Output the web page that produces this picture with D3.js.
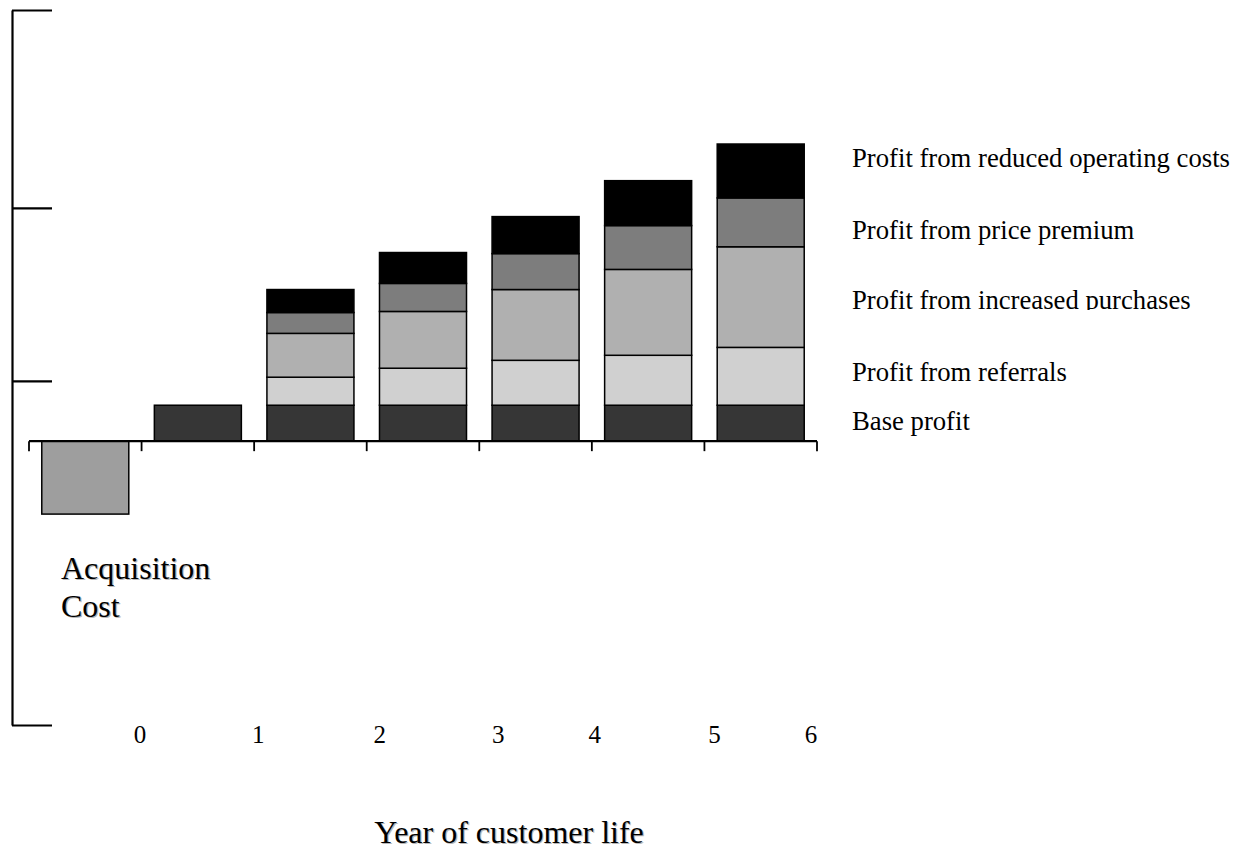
<!DOCTYPE html>
<meta charset="utf-8">

<!-- Load d3 -->
<script src="https://d3js.org/d3.v7.min.js"></script>

<style>
  body { margin: 0; background: #fff; }
  text { font-family: "Liberation Serif", "Times New Roman", serif; fill: #000; }
</style>

<div id="my_visual"></div>

<body>
  <script>

// ---- data ----
var yearLabels = ["0", "1", "2", "3", "4", "5", "6"];
var slots = [0, 1, 2, 3, 4, 5, 6];

var acquisitionCost    = [-20.3, 0, 0, 0, 0, 0, 0];
var baseProfit         = [0, 10, 10, 10, 10, 10, 10];
var referrals          = [0, 0, 7.8, 10.3, 12.5, 13.9, 16.1];
var increasedPurchases = [0, 0, 12.2, 15.8, 19.7, 23.9, 28];
var pricePremium       = [0, 0, 5.8, 7.8, 10, 12.2, 13.6];
var reducedCosts       = [0, 0, 6.4, 8.6, 10.3, 12.5, 15];

var seriesNames = ["Base profit", "Profit from referrals", "Profit from increased purchases",
                   "Profit from price premium", "Profit from reduced operating costs"];
var yTickValues = [-79, 16.8, 64.9, 120];

// ---- layout ----
var width = 1245, height = 850;
var colors = ["#363636", "#d0d0d0", "#b0b0b0", "#7d7d7d", "#000000"];
var acqColor = "#9e9e9e";
var legendBaselines = [430, 381, 309, 239, 167];
var labelNudge = [-1.5, 4, 13, 19, 3, 10, -6];

var svg = d3.select("#my_visual")
  .append("svg")
    .attr("width", width)
    .attr("height", height);

// scales
var x = d3.scaleBand()
    .domain(slots)
    .range([29, 817])
    .paddingInner(0.227)
    .paddingOuter(0.1135);

var y = d3.scaleLinear()
    .domain([-79, 120])
    .range([725, 10]);

// stack the five profit series
var rows = slots.map(function(i) {
  return {slot: i, s0: baseProfit[i], s1: referrals[i], s2: increasedPurchases[i],
          s3: pricePremium[i], s4: reducedCosts[i]};
});
var stacked = d3.stack().keys(["s0", "s1", "s2", "s3", "s4"])(rows);

// Y axis: plain line with inward ticks, no labels
svg.append("g")
    .attr("transform", "translate(12,0)")
    .call(d3.axisRight(y).tickValues(yTickValues).tickSize(40).tickSizeOuter(0).tickFormat(""))
    .call(function(g) {
      g.selectAll("line, path").attr("stroke", "#000").attr("stroke-width", 2.2);
    });

// acquisition cost bar
svg.append("g")
  .selectAll("rect")
  .data(slots.filter(function(i) { return acquisitionCost[i] < 0; }))
  .enter()
  .append("rect")
    .attr("x", function(i) { return x(i); })
    .attr("y", y(0))
    .attr("width", x.bandwidth())
    .attr("height", function(i) { return y(acquisitionCost[i]) - y(0); })
    .attr("fill", acqColor)
    .attr("stroke", "#000")
    .attr("stroke-width", 1.5);

// stacked profit bars
svg.append("g")
  .selectAll("g")
  .data(stacked)
  .enter()
  .append("g")
    .attr("fill", function(d, k) { return colors[k]; })
  .selectAll("rect")
  .data(function(d) { return d.filter(function(p) { return p[1] - p[0] > 0; }); })
  .enter()
  .append("rect")
    .attr("x", function(p) { return x(p.data.slot); })
    .attr("y", function(p) { return y(p[1]); })
    .attr("width", x.bandwidth())
    .attr("height", function(p) { return y(p[0]) - y(p[1]); })
    .attr("stroke", "#000")
    .attr("stroke-width", 1.5);

// X axis line with downward ticks at slot boundaries
var bounds = d3.range(slots.length + 1).map(function(k) { return 29 + k * x.step(); });
svg.append("line")
    .attr("x1", bounds[0]).attr("x2", bounds[bounds.length - 1])
    .attr("y1", y(0)).attr("y2", y(0))
    .attr("stroke", "#000").attr("stroke-width", 2.2);
svg.append("g")
  .selectAll("line")
  .data(bounds)
  .enter()
  .append("line")
    .attr("x1", function(d) { return d; }).attr("x2", function(d) { return d; })
    .attr("y1", y(0)).attr("y2", y(0) + 10)
    .attr("stroke", "#000").attr("stroke-width", 1.8);

// year labels sit under the right edge of each slot
svg.append("g")
  .selectAll("text")
  .data(yearLabels)
  .enter()
  .append("text")
    .attr("x", function(d, i) { return x(slots[i]) + x.bandwidth() + x.step() * 0.1135 + labelNudge[i]; })
    .attr("y", 743)
    .attr("text-anchor", "middle")
    .style("font-size", "25px")
    .text(function(d) { return d; });

// text with a light drop shadow
function shadowText(px, py, size, anchor, str) {
  svg.append("text")
      .attr("x", px + 1.2).attr("y", py + 1.2)
      .attr("text-anchor", anchor)
      .style("font-size", size)
      .style("fill", "#b8b8b8")
      .text(str);
  svg.append("text")
      .attr("x", px).attr("y", py)
      .attr("text-anchor", anchor)
      .style("font-size", size)
      .text(str);
}

shadowText(61, 579, "32px", "start", "Acquisition");
shadowText(61, 617, "32px", "start", "Cost");
shadowText(509, 843, "32px", "middle", "Year of customer life");

// legend labels on the right (the third one is clipped at its baseline)
svg.append("clipPath")
    .attr("id", "clipLegend")
  .append("rect")
    .attr("x", 840).attr("y", 280)
    .attr("width", 405).attr("height", 30);

svg.append("g")
  .selectAll("text")
  .data(seriesNames)
  .enter()
  .append("text")
    .attr("x", 852)
    .attr("y", function(d, i) { return legendBaselines[i]; })
    .attr("clip-path", function(d, i) { return i === 2 ? "url(#clipLegend)" : null; })
    .style("font-size", "26.7px")
    .text(function(d) { return d; });

    </script>
</body>
</html>
